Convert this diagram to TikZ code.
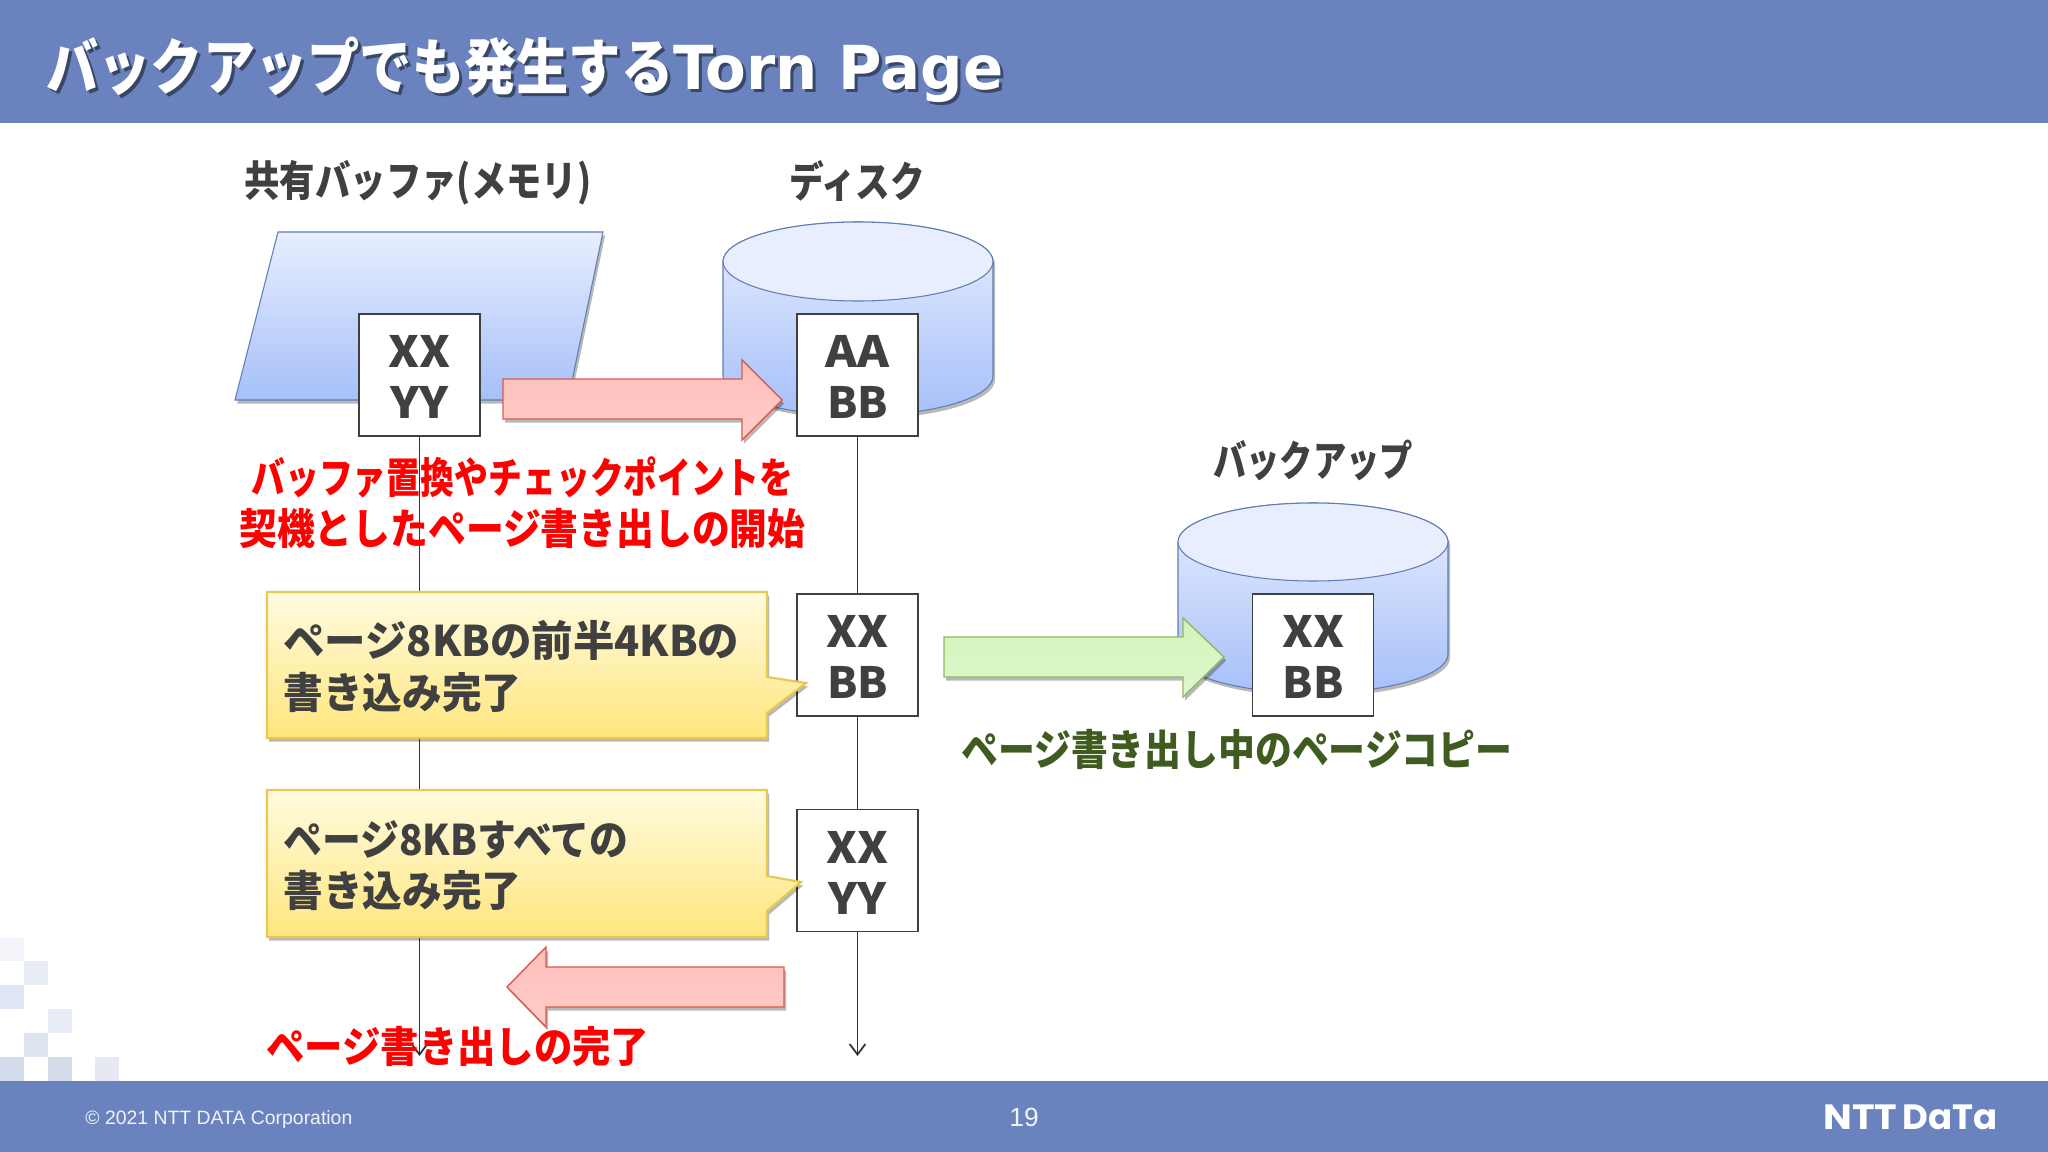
\documentclass[tikz,border=0pt]{standalone}
\usepackage{graphicx}
\usepackage{fontspec}
\setmainfont{Noto Sans CJK JP}
\newfontfamily\latinb{DejaVu Sans}
\newfontfamily\arialf{Liberation Sans}
\newfontfamily\logof{Poppins}
\usetikzlibrary{arrows.meta,shadows}
\newlength\pxu \setlength\pxu{0.02cm}
\newcommand\fw[2]{\resizebox{#1\pxu}{\height}{#2}}
\definecolor{band}{RGB}{106,131,191}
\definecolor{ink}{RGB}{64,64,64}
\definecolor{edgeblue}{RGB}{96,125,180}
\definecolor{blueA}{RGB}{232,238,253}
\definecolor{blueB}{RGB}{166,192,250}
\definecolor{yelA}{RGB}{255,251,224}
\definecolor{yelB}{RGB}{255,230,125}
\definecolor{yelE}{RGB}{232,200,80}
\definecolor{redA}{RGB}{255,190,186}
\definecolor{redB}{RGB}{255,205,200}
\definecolor{redE}{RGB}{216,90,80}
\definecolor{grnA}{RGB}{210,243,185}
\definecolor{grnB}{RGB}{222,248,205}
\definecolor{grnE}{RGB}{145,185,100}
\definecolor{grnT}{RGB}{63,91,32}
\tikzset{
  softshadow/.style={drop shadow={shadow xshift=1.2pt,shadow yshift=-2pt,fill=black,opacity=.28}},
  memblock/.style={draw=edgeblue,line width=.6pt,top color=blueA,bottom color=blueB},
  pagebox/.style={draw=ink,line width=1.1pt,fill=white,minimum width=121\pxu,minimum height=122\pxu,inner sep=0pt,align=center,text=ink,font=\fontsize{24.5}{29}\selectfont\bfseries},
  callout/.style={draw=yelE,line width=1.2pt,top color=yelA,bottom color=yelB,softshadow},
  redarrow/.style={draw=redE,line width=.8pt,top color=redA,bottom color=redB,softshadow},
  grnarrow/.style={draw=grnE,line width=.8pt,top color=grnA,bottom color=grnB,softshadow},
  lifeline/.style={draw=black!80,line width=1pt},
  labeltext/.style={inner sep=0pt,font=\fontsize{24}{29}\selectfont\bfseries},
}
\begin{document}
\begin{tikzpicture}[x=0.02cm,y=-0.02cm]
\path[fill=white,use as bounding box] (0,0) rectangle (2048,1152);
% corner squares
\fill[fill={rgb,255:red,243;green,245;blue,251}] (0,938) rectangle (24,961);
\fill[fill={rgb,255:red,232;green,237;blue,246}] (24,961) rectangle (48,985);
\fill[fill={rgb,255:red,223;green,229;blue,244}] (0,985) rectangle (24,1009);
\fill[fill={rgb,255:red,232;green,236;blue,246}] (48,1009) rectangle (72,1033);
\fill[fill={rgb,255:red,220;green,228;blue,240}] (24,1033) rectangle (48,1057);
\fill[fill={rgb,255:red,211;green,220;blue,234}] (0,1057) rectangle (24,1081);
\fill[fill={rgb,255:red,211;green,220;blue,232}] (48,1057) rectangle (72,1081);
\fill[fill={rgb,255:red,230;green,233;blue,244}] (95,1057) rectangle (119,1081);
% bands
\fill[band] (0,0) rectangle (2048,123);
\fill[band] (0,1081) rectangle (2048,1152);
% title
\node[anchor=west,inner sep=0pt,text=black!70!band,opacity=.65,font=\fontsize{34.5}{40}\selectfont\bfseries] (titleshadow) at (49,73) {\fw{627}{バックアップでも発生する}\fw{330}{\latinb Torn Page}};
\node[anchor=west,inner sep=0pt,text=white,font=\fontsize{34.5}{40}\selectfont\bfseries] (title) at (46,70) {\fw{627}{バックアップでも発生する}\fw{330}{\latinb Torn Page}};
% footer
\node[anchor=west,inner sep=0pt,text=white!90!band,font=\fontsize{11}{13}\selectfont\arialf] (copy) at (85,1119) {\fw{267}{© 2021 NTT DATA Corporation}};
\node[inner sep=0pt,text=white!90!band,font=\fontsize{15}{18}\selectfont\arialf] (pageno) at (1024,1117) {19};
\node[anchor=west,inner sep=0pt,text=white,font=\fontsize{20}{24}\selectfont\logof\bfseries] (logoa) at (1823,1117) {\fw{74}{NTT}};
\node[anchor=west,inner sep=0pt,text=white,font=\fontsize{20}{24}\selectfont\logof\bfseries] (logob) at (1902,1117) {\fw{95}{DaTa}};
% headings
\node[labeltext,text=ink] (hmem) at (418,183) {\fw{347}{共有バッファ(メモリ)}};
\node[labeltext,text=ink] (hdisk) at (857,181) {\fw{136}{ディスク}};
\node[labeltext,text=ink] (hback) at (1313,460) {\fw{200}{バックアップ}};
% memory block
\path[memblock,softshadow] (278,232) -- (603,232) -- (568,400) -- (235,400) -- cycle;
% disk cylinder
\path[memblock,softshadow] (723,261.5) -- (723,376) arc[start angle=180,end angle=0,x radius=135,y radius=39.5] -- (993,261.5) arc[start angle=0,end angle=-180,x radius=135,y radius=39.5] -- cycle;
\path[draw=edgeblue,line width=.6pt,fill=blueA] (858,261.5) ellipse[x radius=135,y radius=39.5];
% backup cylinder
\path[memblock,softshadow] (1178,542) -- (1178,654) arc[start angle=180,end angle=0,x radius=135,y radius=39] -- (1448,542) arc[start angle=0,end angle=-180,x radius=135,y radius=39] -- cycle;
\path[draw=edgeblue,line width=.6pt,fill=blueA] (1313,542) ellipse[x radius=135,y radius=39];
% page boxes
\node[pagebox] (m1) at (419.5,375) {\rule{0pt}{21pt}\fw{62}{XX}\\\fw{58}{YY}};
\node[pagebox] (d1) at (857.5,375) {\rule{0pt}{21pt}\fw{64}{AA}\\\fw{61}{BB}};
\node[pagebox] (d2) at (857.5,655) {\rule{0pt}{21pt}\fw{62}{XX}\\\fw{61}{BB}};
\node[pagebox] (d3) at (857.5,870.5) {\rule{0pt}{21pt}\fw{62}{XX}\\\fw{58}{YY}};
\node[pagebox] (b1) at (1313,655) {\rule{0pt}{21pt}\fw{62}{XX}\\\fw{61}{BB}};
\coordinate (endL) at (419.5,1056);
\coordinate (endR) at (857.5,1056);
% lifelines
\draw[lifeline,-{Straight Barb[length=6pt,width=9pt]}] (m1) -- (endL);
\draw[lifeline] (d1) -- (d2);
\draw[lifeline] (d2) -- (d3);
\draw[lifeline,-{Straight Barb[length=6pt,width=9pt]}] (d3) -- (endR);
% callouts
\path[callout] (267,592) -- (767,592) -- (767,677) -- (806,683) -- (767,713) -- (767,738) -- (267,738) -- cycle;
\path[callout] (267,790) -- (767,790) -- (767,876) -- (801,882) -- (767,911) -- (767,937) -- (267,937) -- cycle;
\node[labeltext,anchor=west,text=ink] (c1a) at (283,640) {\fw{456}{ページ8KBの前半4KBの}};
\node[labeltext,anchor=west,text=ink] (c1b) at (283,692) {\fw{238}{書き込み完了}};
\node[labeltext,anchor=west,text=ink] (c2a) at (283,840) {\fw{345}{ページ8KBすべての}};
\node[labeltext,anchor=west,text=ink] (c2b) at (283,890) {\fw{238}{書き込み完了}};
% block arrows
\path[redarrow] (503,379) -- (742,379) -- (742,360) -- (782,400) -- (742,440) -- (742,419) -- (503,419) -- cycle;
\path[redarrow] (784,967) -- (546,967) -- (546,947) -- (507,987) -- (546,1027) -- (546,1007) -- (784,1007) -- cycle;
\path[grnarrow] (944,637) -- (1183,637) -- (1183,618) -- (1224,657) -- (1183,697) -- (1183,677) -- (944,677) -- cycle;
% coloured labels
\node[labeltext,anchor=west,text=red] (r1) at (251,477) {\fw{542}{バッファ置換やチェックポイントを}};
\node[labeltext,anchor=west,text=red] (r2) at (239,528) {\fw{566}{契機としたページ書き出しの開始}};
\node[labeltext,anchor=west,text=red] (r3) at (266,1046) {\fw{383}{ページ書き出しの完了}};
\node[labeltext,anchor=west,text=grnT] (g1) at (961,749) {\fw{551}{ページ書き出し中のページコピー}};
\end{tikzpicture}
\end{document}
